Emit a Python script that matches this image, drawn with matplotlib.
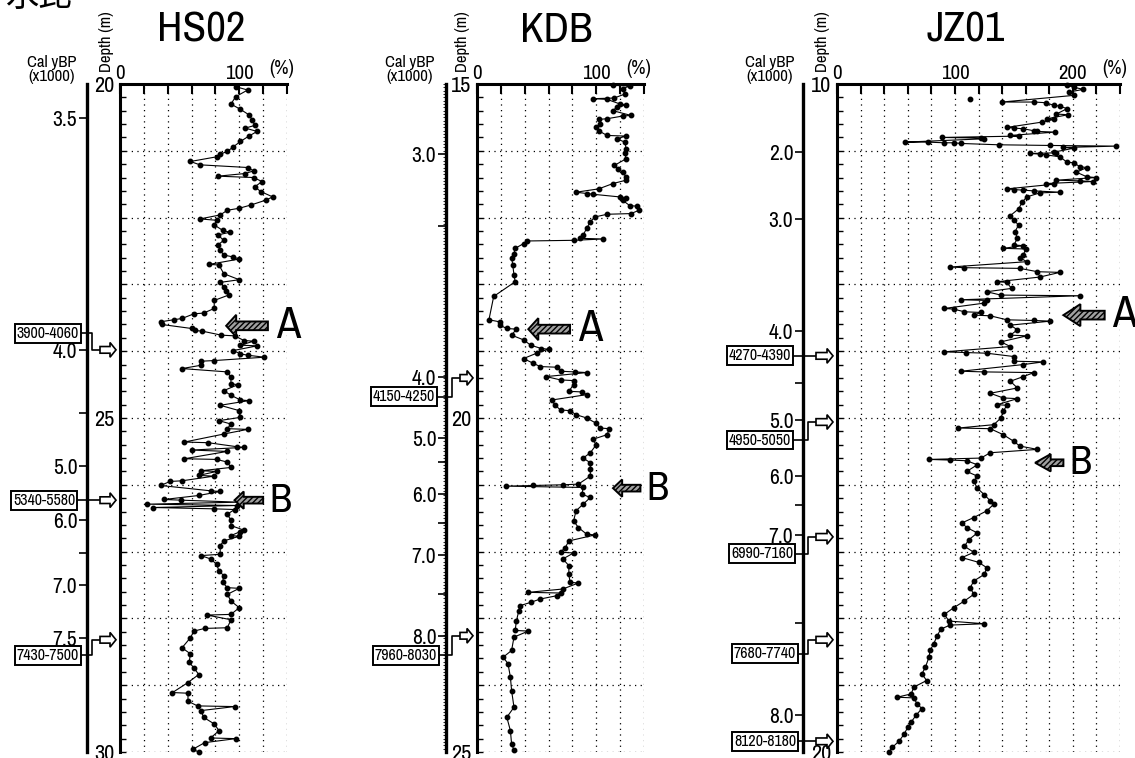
import numpy as np
import matplotlib
matplotlib.use('Agg')
import matplotlib.pyplot as plt
from matplotlib import font_manager
from matplotlib.patches import FancyArrow

# ---------------- data ----------------
# HS02: depth (m) and water content (%)
hs_depth = [20.04,20.09,20.19,20.30,20.38,20.46,20.54,20.62,20.66,20.71,20.78,20.86,20.94,21.01,21.05,21.09,21.16,21.21,21.25,21.30,21.34,21.38,21.40,21.46,21.54,21.61,21.69,21.74,21.81,21.86,21.89,21.96,22.02,22.04,22.11,22.19,22.22,22.26,22.34,22.41,22.49,22.56,22.59,22.62,22.70,22.71,22.84,22.93,22.97,23.04,23.10,23.16,23.24,23.36,23.43,23.44,23.51,23.53,23.56,23.60,23.66,23.69,23.70,23.76,23.77,23.84,23.85,23.91,23.92,23.99,24.04,24.06,24.09,24.14,24.15,24.21,24.26,24.31,24.39,24.49,24.50,24.59,24.66,24.73,24.74,24.81,24.89,24.99,25.04,25.09,25.16,25.17,25.24,25.36,25.37,25.43,25.44,25.48,25.50,25.61,25.62,25.66,25.74,25.79,25.80,25.86,25.87,25.94,25.95,26.01,26.09,26.10,26.16,26.22,26.23,26.26,26.29,26.31,26.34,26.36,26.37,26.44,26.53,26.61,26.68,26.70,26.76,26.77,26.84,26.91,27.04,27.06,27.11,27.19,27.29,27.36,27.46,27.54,27.55,27.64,27.74,27.84,27.94,27.95,28.02,28.14,28.15,28.19,28.29,28.44,28.53,28.66,28.74,28.84,28.96,29.11,29.12,29.24,29.31,29.32,29.38,29.48,29.58,29.68,29.79,29.80,29.86,29.96,30.00]
hs_value = [97,107,97,93,101,108,111,113,105,115,108,101,95,90,84,81,59,67,107,112,105,82,112,119,113,118,128,122,110,100,90,84,67,81,79,86,92,82,87,82,84,87,95,100,75,83,87,100,84,87,89,91,79,79,70,62,52,45,34,35,60,63,69,85,96,104,112,101,115,95,101,107,121,79,68,68,52,90,93,93,99,87,93,101,108,84,100,101,83,93,90,107,87,54,74,98,104,60,90,54,81,90,93,68,81,66,79,52,42,34,76,84,66,37,51,100,23,98,28,79,96,90,93,93,104,101,93,100,87,84,84,68,76,81,83,87,86,90,100,90,93,100,93,73,93,90,71,62,59,52,59,58,62,66,57,44,57,57,65,96,68,70,79,83,76,97,71,61,66]

# KDB
kd_depth = [15.02,15.03,15.07,15.15,15.21,15.22,15.23,15.30,15.31,15.35,15.40,15.47,15.48,15.52,15.53,15.60,15.65,15.70,15.77,15.78,15.82,15.87,15.97,16.04,16.12,16.22,16.27,16.32,16.39,16.44,16.49,16.57,16.62,16.64,16.65,16.69,16.70,16.74,16.82,16.83,16.89,16.94,16.95,16.99,17.06,17.16,17.26,17.31,17.32,17.34,17.35,17.39,17.46,17.54,17.60,17.71,17.86,17.96,18.18,18.53,18.56,18.61,18.66,18.67,18.76,18.83,18.91,18.96,18.97,19.03,19.11,19.18,19.23,19.24,19.30,19.31,19.32,19.38,19.43,19.44,19.50,19.60,19.61,19.65,19.73,19.80,19.88,19.89,19.95,20.00,20.08,20.15,20.16,20.25,20.32,20.40,20.52,20.60,20.67,20.77,20.87,20.99,21.00,21.01,21.02,21.04,21.14,21.19,21.29,21.39,21.54,21.64,21.74,21.75,21.84,21.94,22.01,22.02,22.11,22.21,22.34,22.46,22.47,22.56,22.61,22.62,22.66,22.71,22.76,22.81,22.89,23.04,23.18,23.19,23.28,23.48,23.58,23.68,23.88,24.08,24.33,24.48,24.68,24.88,24.97]
kd_value = [114,128,122,124,115,97,109,120,125,117,114,129,122,109,102,103,100,102,109,125,117,124,125,124,125,115,118,122,125,125,114,102,83,92,97,120,125,122,128,134,136,129,109,99,95,92,89,86,106,81,42,39,32,31,29,30,31,32,14,10,19,19,25,33,29,39,45,54,60,50,39,47,53,67,70,82,92,58,70,81,81,77,88,92,63,65,70,78,83,92,100,103,111,109,97,100,95,89,95,95,95,85,72,47,24,89,88,95,89,83,81,85,92,99,77,74,70,81,72,77,77,78,85,72,43,70,67,53,45,36,35,33,32,43,31,29,22,26,28,29,31,25,28,29,31]

# JZ01
jz_depth = [10.02,10.05,10.08,10.12,10.17,10.27,10.27,10.28,10.32,10.33,10.37,10.45,10.46,10.52,10.53,10.57,10.65,10.66,10.67,10.70,10.71,10.72,10.77,10.78,10.80,10.81,10.82,10.87,10.87,10.88,10.88,10.89,10.91,10.92,10.93,10.95,10.96,11.02,11.03,11.04,11.05,11.06,11.09,11.17,11.18,11.24,11.25,11.32,11.39,11.40,11.44,11.45,11.46,11.49,11.50,11.57,11.58,11.59,11.60,11.62,11.63,11.69,11.77,11.87,11.97,12.04,12.11,12.21,12.31,12.41,12.42,12.46,12.47,12.56,12.60,12.66,12.74,12.75,12.76,12.81,12.82,12.89,12.96,12.97,13.06,13.11,13.16,13.17,13.23,13.24,13.28,13.36,13.37,13.41,13.42,13.46,13.47,13.53,13.54,13.55,13.61,13.68,13.76,13.77,13.86,13.93,14.01,14.02,14.03,14.08,14.15,14.16,14.20,14.30,14.31,14.32,14.38,14.45,14.55,14.63,14.70,14.71,14.80,14.81,14.90,15.00,15.10,15.15,15.16,15.25,15.35,15.42,15.47,15.52,15.60,15.62,15.63,15.64,15.70,15.80,15.87,15.95,16.05,16.15,16.24,16.29,16.39,16.49,16.57,16.64,16.72,16.82,16.92,17.01,17.09,17.16,17.24,17.34,17.44,17.54,17.64,17.74,17.84,17.94,18.04,18.08,18.10,18.16,18.26,18.38,18.48,18.58,18.73,18.83,18.93,19.03,19.13,19.18,19.19,19.28,19.35,19.45,19.55,19.63,19.73,19.83,19.93,20.00]
jz_value = [195,201,209,197,201,140,167,177,184,189,195,186,196,178,184,174,144,150,158,167,170,185,147,154,89,122,125,58,77,91,99,105,137,181,237,192,201,184,186,164,172,177,189,195,201,206,212,203,212,220,186,206,217,177,184,144,150,158,167,189,172,161,157,154,147,150,154,151,153,150,158,141,160,158,155,161,96,108,155,170,189,172,136,144,148,127,139,206,105,127,125,91,99,108,122,116,130,144,167,181,147,153,147,161,139,147,91,109,127,150,150,175,158,105,125,167,158,147,153,130,141,153,136,144,141,139,133,103,130,141,150,155,170,130,122,78,96,110,119,110,119,116,119,125,130,133,127,116,106,110,119,112,108,116,106,120,127,125,116,113,116,108,99,91,95,125,96,88,85,82,79,78,75,72,76,65,63,51,65,68,72,67,63,60,57,53,47,44]
jz_iso_depth = [10.22]
jz_iso_value = [113]

# calibrated age axes: tick depth and label (x1000 cal yBP)
hs_age_depth = [20.51, 23.98, 24.93, 25.72, 26.53, 27.02, 27.50, 28.29]
hs_age_label = ['3.5', '4.0', '', '5.0', '6.0', '', '7.0', '7.5']
kd_age_depth = [16.05, 17.13, 19.39, 20.30, 20.66, 21.14, 21.57, 22.05, 22.63, 23.26]
kd_age_label = ['3.0', '', '4.0', '5.0', '', '6.0', '', '7.0', '', '8.0']
jz_age_depth = [11.02, 12.02, 13.70, 14.48, 15.03, 15.87, 16.30, 16.75, 18.07, 19.45]
jz_age_label = ['2.0', '3.0', '4.0', '', '5.0', '6.0', '', '7.0', '', '8.0']

# radiocarbon dates: label, arrow depth, label-box depth
hs_date_label = ['3900-4060', '5340-5580', '7430-7500']
hs_date_depth = [23.98, 26.23, 28.32]
hs_date_box = [23.73, 26.23, 28.55]
kd_date_label = ['4150-4250', '7960-8030']
kd_date_depth = [19.40, 23.26]
kd_date_box = [19.68, 23.55]
jz_date_label = ['4270-4390', '4950-5050', '6990-7160', '7680-7740', '8120-8180']
jz_date_depth = [14.07, 15.06, 16.78, 18.32, 19.84]
jz_date_box = [14.07, 15.33, 17.03, 18.53, 19.84]

# event markers A / B: depth, arrow tip value, arrow tail value
hs_event = {'A': (23.62, 89, 124), 'B': (26.23, 96, 120)}
kd_event = {'A': (18.67, 43, 78), 'B': (21.05, 114, 137)}
jz_event = {'A': (13.46, 192, 227), 'B': (15.67, 168, 192)}

# ---------------- figure ----------------
W, H = 1135, 758
fig = plt.figure(figsize=(W / 100, H / 100), dpi=100)
names = {f.name for f in font_manager.fontManager.ttflist}
NARROW = 'DejaVu Sans'
for cand in ['Archivo Narrow', 'Barlow Condensed', 'IBM Plex Sans Condensed',
             'Asap Condensed', 'Liberation Sans Narrow']:
    if cand in names:
        NARROW = cand
        break
plt.rcParams['font.family'] = [NARROW, 'DejaVu Sans']

TOP, BOT = 84, 752


def panel(L, R, dmin, xmax, depth, val, title, title_x, age_x, age_d, age_l,
          dlab, ddep, dbox, box_cx, step_x, events, ylabels, xlabels, cal_x, dep_x,
          iso=None, age_minor=False):
    dmax = dmin + 10
    hfrac = (BOT - TOP) / H
    ax = fig.add_axes([L / W, 1 - BOT / H, (R - L) / W, hfrac])
    ax.set_xlim(0, xmax)
    ax.set_ylim(dmax, dmin)
    ax.set_xticks(np.arange(0, xmax + 1, 20))
    ax.set_xticklabels([str(v) if v in xlabels else '' for v in range(0, xmax + 1, 20)])
    ax.set_yticks(np.arange(dmin, dmax + 1, 1))
    ax.set_yticklabels([str(d) if d in ylabels else '' for d in range(dmin, dmax + 1)])
    ax.set_yticks(np.arange(dmin, dmax, 0.2), minor=True)
    ax.xaxis.tick_top()
    ax.tick_params(axis='x', direction='in', length=7, width=1.5, labelsize=15, pad=1)
    ax.tick_params(axis='y', which='both', direction='in', length=4, width=1.0,
                   labelsize=16, pad=4)
    for s in ('right', 'bottom'):
        ax.spines[s].set_visible(False)
    ax.spines['left'].set_linewidth(2.2)
    ax.spines['top'].set_linewidth(2.2)
    ax.grid(True, which='major', color='k', linestyle=(0, (1, 3.5)), linewidth=0.9)
    ax.set_axisbelow(True)
    ax.plot(val, depth, '-', color='k', lw=0.8, marker='o', ms=3.2, zorder=3,
            clip_on=False)
    if iso is not None:
        ax.plot(iso[1], iso[0], 'o', color='k', ms=3.2, zorder=3)
    ax.annotate('(%)', xy=(1, 1), xycoords='axes fraction', xytext=(-4, 4),
                textcoords='offset points', ha='center', va='bottom', fontsize=14)
    # event arrows A / B
    for lab, (d, tip, tail) in events.items():
        big = lab == 'A'
        hl = xmax * (0.06 if big else 0.055)
        arr = FancyArrow(tail, d, tip - tail, 0, width=0.13 if big else 0.1,
                         head_width=0.33 if big else 0.26, head_length=hl,
                         length_includes_head=True, facecolor='#a0a0a0',
                         edgecolor='k', lw=1.4, hatch='//////', zorder=5,
                         clip_on=False)
        ax.add_patch(arr)
        ax.annotate(lab, xy=(tail, d), xycoords='data', xytext=(20 if big else 17, 0),
                    textcoords='offset pixels', ha='center', va='center',
                    fontsize=32 if big else 29, fontweight='bold', zorder=6,
                    annotation_clip=False)
    # age axis
    ag = fig.add_axes([age_x / W, 1 - BOT / H, 0.0005, hfrac])
    ag.set_ylim(dmax, dmin)
    ag.patch.set_visible(False)
    for s in ('right', 'top', 'bottom'):
        ag.spines[s].set_visible(False)
    ag.spines['left'].set_linewidth(2.4)
    ag.set_xticks([])
    ag.set_yticks(age_d)
    ag.set_yticklabels(age_l)
    if age_minor:
        ag.set_yticks(np.arange(dmin, dmax, 0.05), minor=True)
        ag.tick_params(axis='y', which='minor', direction='out', length=2, width=0.6)
    ag.tick_params(axis='y', which='major', direction='out', length=6, width=1.2,
                   labelsize=15.5, pad=1)
    # overlay for dating labels (x in pixels, y in depth)
    ov = fig.add_axes([0, 1 - BOT / H, 1, hfrac])
    ov.set_xlim(0, W)
    ov.set_ylim(dmax, dmin)
    ov.axis('off')
    ov.patch.set_visible(False)
    for lab, d, b, cx in zip(dlab, ddep, dbox, box_cx):
        ov.text(cx, b, lab, ha='center', va='center', fontsize=11.5, zorder=6,
                bbox=dict(boxstyle='square,pad=0.12', fc='white', ec='k', lw=1.4))
        x0 = cx + 33
        ov.plot([x0, step_x, step_x, step_x + 8], [b, b, d, d], color='k', lw=1.2,
                clip_on=False)
        a = FancyArrow(step_x + 8, d, L - 4 - (step_x + 8), 0, width=0.1,
                       head_width=0.22, head_length=6, length_includes_head=True,
                       fc='white', ec='k', lw=1.2, zorder=6, clip_on=False)
        ov.add_patch(a)
    fig.text(title_x / W, 1 - 30 / H, title, ha='center', va='center', fontsize=31)
    fig.text(cal_x / W, 1 - 62 / H, 'Cal yBP', ha='center', va='center', fontsize=12)
    fig.text(cal_x / W, 1 - 76 / H, '(x1000)', ha='center', va='center', fontsize=12)
    fig.text(dep_x / W, 1 - 42 / H, 'Depth (m)', ha='center', va='center',
             fontsize=12, rotation=90)


panel(120, 287, 20, 140, hs_depth, hs_value, 'HS02', 201, 87, hs_age_depth, hs_age_label,
      hs_date_label, hs_date_depth, hs_date_box, [48, 44, 48], 92, hs_event,
      [20, 25, 30], [0, 100], 52, 107)
panel(477, 644, 15, 140, kd_depth, kd_value, 'KDB', 556, 446, kd_age_depth, kd_age_label,
      kd_date_label, kd_date_depth, kd_date_box, [404, 406], 452, kd_event,
      [15, 20, 25], [0, 100], 410, 463, age_minor=True)
panel(837, 1120, 10, 240, jz_depth, jz_value, 'JZ01', 966, 803, jz_age_depth, jz_age_label,
      jz_date_label, jz_date_depth, jz_date_box, [760, 760, 762, 765, 765], 808, jz_event,
      [10, 20], [0, 100, 200], 770, 823, iso=(jz_iso_depth, jz_iso_value))

fig.text(5 / W, 1 - 15 / H, '水比', ha='left', va='bottom', fontsize=24,
         family=['Noto Sans CJK JP', 'DejaVu Sans'])

fig.savefig('out.png', dpi=100)
